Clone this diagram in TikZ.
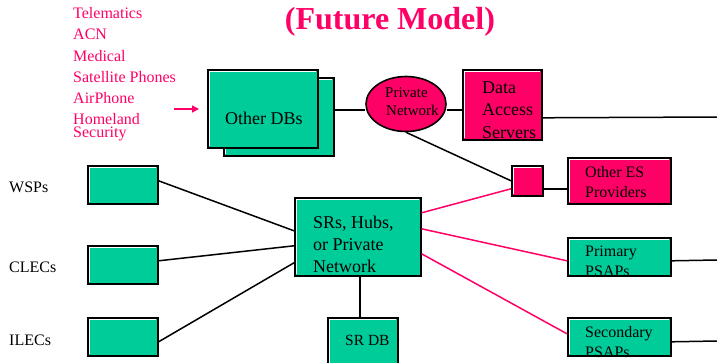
\documentclass[tikz,border=0pt]{standalone}
\usepackage{fontspec}
\setmainfont{Liberation Serif}
\usetikzlibrary{calc,shapes.geometric,arrows.meta}
\definecolor{esgreen}{HTML}{00CC99}
\definecolor{esmag}{HTML}{FF0066}
\tikzset{
  hl/.style={path picture={\draw[white,line width=0.9pt]
     ($(path picture bounding box.south west)+(1.6pt,1.6pt)$) |- ($(path picture bounding box.north east)+(-1.6pt,-1.6pt)$);}},
  gbox/.style={rectangle,draw=black,line width=1.6pt,fill=esgreen,inner sep=0pt,anchor=north west,hl},
  mbox/.style={rectangle,draw=black,line width=1.6pt,fill=esmag,inner sep=0pt,anchor=north west,hl},
  conn/.style={draw=black,line width=1.5pt},
  mconn/.style={draw=esmag,line width=1.5pt},
  lbl/.style={anchor=base west,inner sep=0pt,text=black},
  mlbl/.style={anchor=base west,inner sep=0pt,text=esmag,font=\fontsize{16}{18}\selectfont},
}
\begin{document}
\begin{tikzpicture}[x=1pt,y=-1pt]
\clip (0,0) rectangle (717,362);
\fill[white] (0,0) rectangle (717,362);

% title
\node[anchor=base,inner sep=0pt,text=esmag,font=\fontsize{32}{36}\selectfont\bfseries] (title) at (390,29) {(Future Model)};

% list
\node[mlbl] (l1) at (73,18) {Telematics};
\node[mlbl] (l2) at (73,39) {ACN};
\node[mlbl] (l3) at (73,61) {Medical};
\node[mlbl] (l4) at (73,82) {Satellite Phones};
\node[mlbl] (l5) at (73,103) {AirPhone};
\node[mlbl] (l6) at (73,124) {Homeland};
\node[mlbl] (l7) at (73,137) {Security};
\coordinate (arS) at (174,109);
\coordinate (arE) at (199,109);
\draw[esmag,line width=1.5pt,-{Triangle[length=7pt,width=7pt]}] (arS) -- (arE);

% boxes
\node[gbox,minimum width=110pt,minimum height=78pt] (dbback) at (223,77) {};
\node[gbox,minimum width=110pt,minimum height=78pt] (dbfront) at (207,69) {};
\node[ellipse,draw=black,line width=1.6pt,fill=esmag,minimum width=80pt,minimum height=55pt,inner sep=0pt] (pn) at (406,104) {};
\node[mbox,minimum width=79pt,minimum height=70pt] (das) at (462,69) {};
\node[mbox,minimum width=31pt,minimum height=30pt] (sq) at (511,165) {};
\node[mbox,minimum width=103pt,minimum height=46pt] (oes) at (567,157) {};
\node[gbox,minimum width=103pt,minimum height=38pt] (pp) at (567,237) {};
\node[gbox,minimum width=103pt,minimum height=38pt] (sp) at (567,317) {};
\node[gbox,minimum width=126pt,minimum height=78pt] (srs) at (294,197) {};
\node[gbox,minimum width=70pt,minimum height=60pt] (srdb) at (327,317) {};
\node[gbox,minimum width=70pt,minimum height=38pt] (wb) at (87,165) {};
\node[gbox,minimum width=70pt,minimum height=38pt] (cb) at (87,245) {};
\node[gbox,minimum width=70pt,minimum height=38pt] (ib) at (87,317) {};

\coordinate (dasout) at (717,117);
\coordinate (ppout) at (717,260);
\coordinate (spout) at (717,341);

% black connectors
\draw[conn] ([yshift=7pt]dbback.east) -- ([yshift=7pt]dbback.east -| pn.west);
\draw[conn] ([yshift=-5pt]das.west -| pn.east) -- ([yshift=-5pt]das.west);
\draw[conn] ([yshift=-13pt]das.east) -- (dasout);
\draw[conn] (pn.south) -- (sq.west);
\draw[conn] ([yshift=-8pt]sq.east) -- ([yshift=-8pt]sq.east -| oes.west);
\draw[conn] ([yshift=-4pt]pp.east) -- (ppout);
\draw[conn] ([yshift=-5pt]sp.east) -- (spout);
\draw[conn] ([yshift=4pt]wb.east) -- ([yshift=6pt]srs.west);
\draw[conn] ([yshift=4pt]cb.east) -- ([yshift=-9pt]srs.west);
\draw[conn] ([yshift=-5pt]ib.east) -- ([yshift=-26pt]srs.west);
\draw[conn] ([xshift=2pt]srs.south) -- ([xshift=2pt]srs.south |- srdb.north);

% magenta connectors
\draw[mconn] ([yshift=24pt]srs.east) -- ([yshift=-8pt]sq.west);
\draw[mconn] ([yshift=8pt]srs.east) -- ([yshift=-4pt]pp.west);
\draw[mconn] ([yshift=-17pt]srs.east) -- ([yshift=3pt]sp.west);

% labels
\node[lbl,font=\fontsize{18}{22}\selectfont] (tdb) at (225,124) {Other DBs};
\node[lbl,font=\fontsize{15}{18}\selectfont] (tpn1) at (385,97) {Private};
\node[lbl,font=\fontsize{15}{18}\selectfont] (tpn2) at (386,115) {Network};
\node[lbl,font=\fontsize{18}{22}\selectfont] (tda1) at (482,93) {Data};
\node[lbl,font=\fontsize{18}{22}\selectfont] (tda2) at (482,115) {Access};
\node[lbl,font=\fontsize{18}{22}\selectfont] (tda3) at (482,138) {Servers};
\node[lbl,font=\fontsize{16}{18}\selectfont] (toe1) at (585,177) {Other ES};
\node[lbl,font=\fontsize{16}{18}\selectfont] (toe2) at (585,197) {Providers};
\node[lbl,font=\fontsize{16}{18}\selectfont] (tpp1) at (585,256) {Primary};
\node[lbl,font=\fontsize{16}{18}\selectfont] (tpp2) at (585,276) {PSAPs};
\node[lbl,font=\fontsize{16}{18}\selectfont] (tsp1) at (585,337) {Secondary};
\node[lbl,font=\fontsize{16}{18}\selectfont] (tsp2) at (585,357) {PSAPs};
\node[lbl,font=\fontsize{18}{22}\selectfont] (tsr1) at (313,228) {SRs, Hubs,};
\node[lbl,font=\fontsize{18}{22}\selectfont] (tsr2) at (313,250) {or Private};
\node[lbl,font=\fontsize{18}{22}\selectfont] (tsr3) at (313,272) {Network};
\node[lbl,font=\fontsize{15.5}{18}\selectfont] (tsrdb) at (345,345) {SR DB};
\node[lbl,font=\fontsize{16}{18}\selectfont] (tw) at (9,192) {WSPs};
\node[lbl,font=\fontsize{16}{18}\selectfont] (tc) at (9,272) {CLECs};
\node[lbl,font=\fontsize{16}{18}\selectfont] (ti) at (9,345) {ILECs};
\end{tikzpicture}
\end{document}
